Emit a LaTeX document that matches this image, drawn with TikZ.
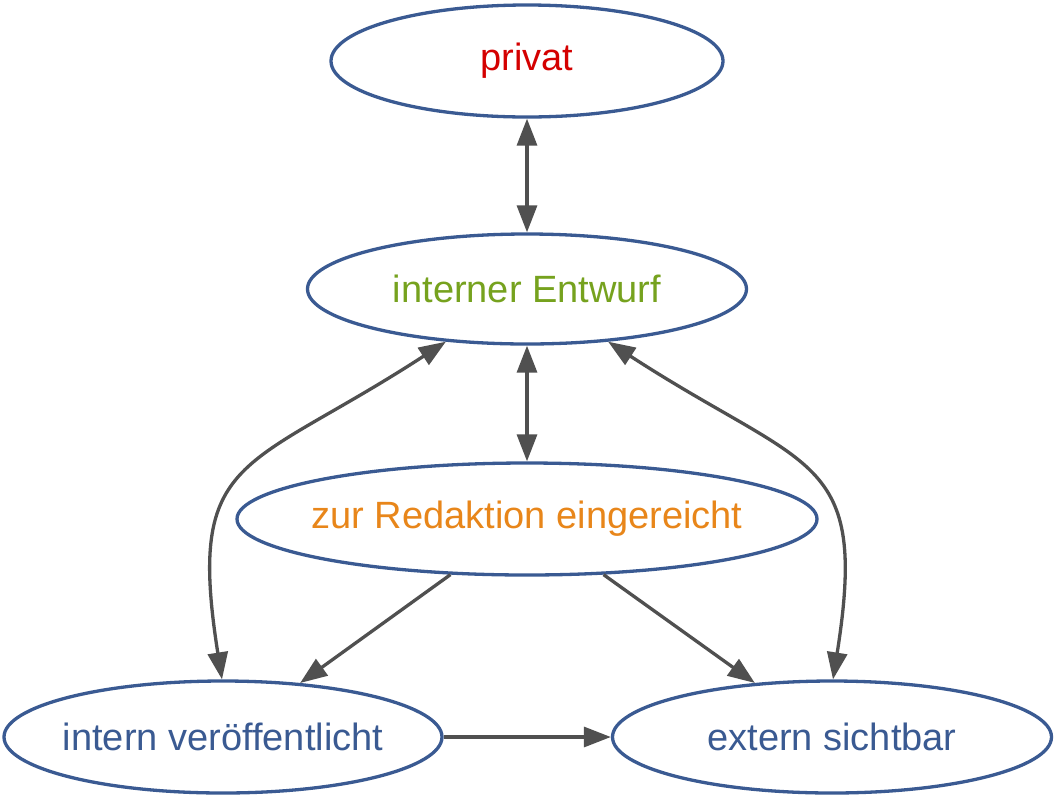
\documentclass[tikz,border=0pt]{standalone}
\usepackage{fontspec}
\setmainfont{Liberation Sans}
\usetikzlibrary{shapes.geometric,arrows.meta}
\definecolor{nodeblue}{HTML}{3A5A92}
\definecolor{edgegray}{HTML}{505050}
\definecolor{privred}{HTML}{D40000}
\definecolor{entgreen}{HTML}{76A21E}
\definecolor{redorange}{HTML}{E8861A}
\tikzset{
  state/.style={ellipse, draw=nodeblue, line width=3.3pt, inner sep=0pt, fill=white,
    font=\fontsize{38}{44}\selectfont},
  conn/.style={draw=edgegray, line width=3.3pt,
    -{Triangle[length=27pt,width=20pt]}},
  bconn/.style={draw=edgegray, line width=3.3pt,
    {Triangle[length=27pt,width=20pt]}-{Triangle[length=27pt,width=20pt]}}
}
\newcommand{\lbl}[1]{\makebox[0pt]{#1}}
\begin{document}
\begin{tikzpicture}[x=1pt,y=-1pt]
\useasboundingbox (0,0) rectangle (1055,796);
\node[state, minimum width=392pt, minimum height=112pt, text=privred] (pv) at (527,61) {\lbl{privat}};
\node[state, minimum width=439pt, minimum height=110pt, text=entgreen] (ie) at (527,289) {\lbl{interner Entwurf}};
\node[state, minimum width=580pt, minimum height=112pt, text=redorange] (zr) at (527,519) {\lbl{zur Redaktion eingereicht}};
\node[state, minimum width=438pt, minimum height=112pt, text=nodeblue] (iv) at (223,737) {\lbl{intern veröffentlicht}};
\node[state, minimum width=439pt, minimum height=112pt, text=nodeblue] (es) at (832,737) {\lbl{extern sichtbar}};

\draw[bconn] (pv.south) -- (ie.north);
\draw[bconn] (ie.south) -- (zr.north);
\draw[bconn] (ie.213) .. controls +(-213:240) and +(-99:230) .. (iv.91);
\draw[bconn] (ie.327) .. controls +(-327:240) and +(-81:230) .. (es.89);
\draw[conn] (zr.216) -- (iv.35);
\draw[conn] (zr.324) -- (es.145);
\draw[conn] (iv.east) -- (es.west);
\end{tikzpicture}
\end{document}
